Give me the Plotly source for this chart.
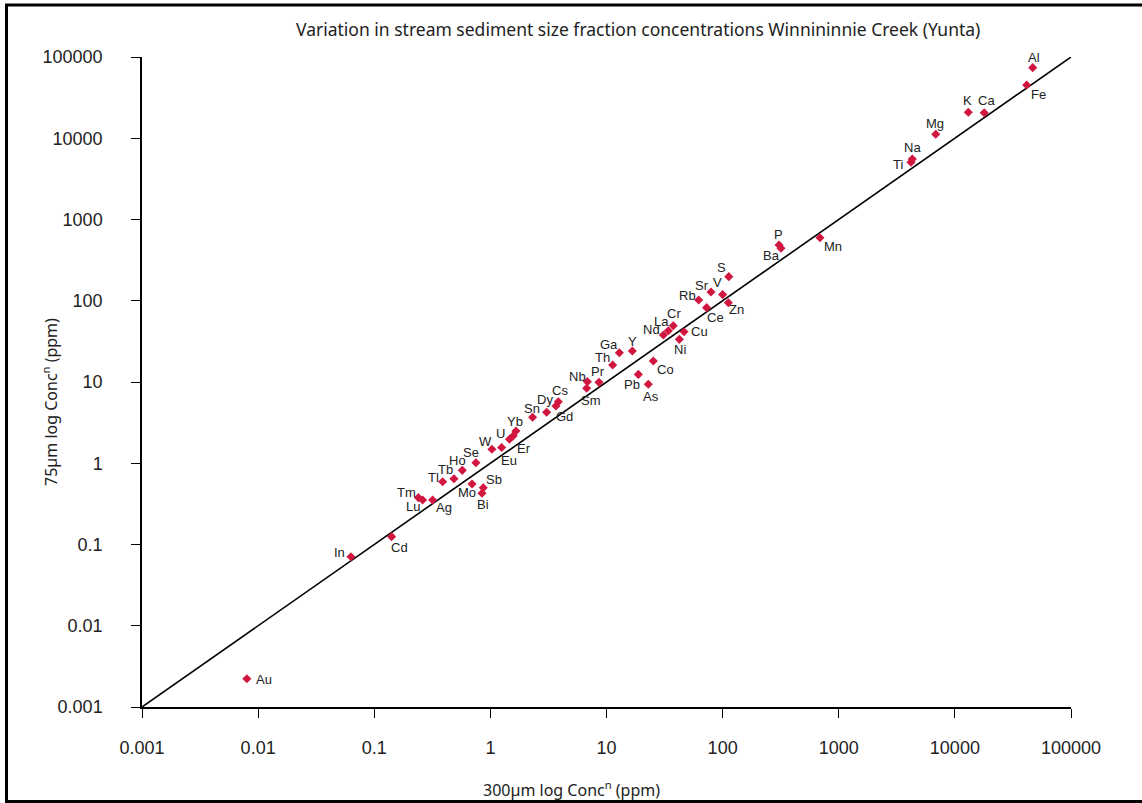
import numpy as np
import plotly.graph_objects as go

# Element concentrations (ppm) in the two stream-sediment size fractions
elements = ["Au", "In", "Cd", "Tm", "Lu", "Ag", "Tl", "Tb", "Ho", "Se", "Mo", "Sb", "Bi",
            "W", "Eu", "U", "Er", "Yb", "Sn", "Dy", "Cs", "Gd", "Nb", "Sm", "Pr", "Th",
            "Ga", "Y", "Co", "Pb", "As", "Nd", "La", "Cr", "Ni", "Cu", "Ce", "Rb", "Sr",
            "V", "Zn", "S", "P", "Ba", "Mn", "Ti", "Na", "Mg", "K", "Ca", "Fe", "Al"]
conc_300um = [0.0080, 0.063, 0.141, 0.240, 0.261, 0.318, 0.388, 0.486, 0.573, 0.751, 0.695, 0.869, 0.847,
              1.03, 1.25, 1.46, 1.57, 1.66, 2.31, 3.05, 3.85, 3.67, 6.84, 6.75, 8.62, 11.3,
              12.9, 16.7, 25.3, 18.8, 22.9, 30.9, 34.1, 37.6, 42.4, 46.5, 72.8, 62.2, 79.4,
              100, 112, 113, 306, 318, 689, 4190, 4300, 6840, 13050, 17900, 41500, 46800]
conc_75um = [0.00223, 0.0708, 0.125, 0.377, 0.353, 0.353, 0.593, 0.645, 0.818, 1.016, 0.556, 0.500, 0.427,
             1.49, 1.56, 1.97, 2.17, 2.49, 3.68, 4.24, 5.72, 5.07, 10.1, 8.36, 9.9, 16.2,
             22.9, 24.1, 18.1, 12.4, 9.37, 37.9, 42.8, 49.3, 33.5, 41.6, 82.2, 102, 128,
             119, 94.6, 198, 486, 442, 597, 5060, 5560, 11200, 20900, 20600, 45200, 73900]

# 1:1 reference line and axis decades
one_to_one = [0.001, 100000]
decades = [0.001, 0.01, 0.1, 1, 10, 100, 1000, 10000, 100000]
decade_labels = ["0.001", "0.01", "0.1", "1", "10", "100", "1000", "10000", "100000"]

# Label placement (pixel offsets from each marker: right, down)
label_offsets = {
    "Au": (17, 1), "In": (-11, -4), "Cd": (8, 11), "Tm": (-12, -5), "Lu": (-10, 7),
    "Ag": (11, 8), "Tl": (-9, -4), "Tb": (-8, -9), "Ho": (-5, -10), "Se": (-5, -10),
    "Mo": (-5, 9), "Sb": (11, -8), "Bi": (1, 11), "W": (-6, -8), "Eu": (7, 13),
    "U": (-9, -6), "Er": (11, 13), "Yb": (-1, -10), "Sn": (-1, -9), "Dy": (-2, -13),
    "Cs": (2, -11), "Gd": (9, 11), "Nb": (-10, -5), "Sm": (4, 12), "Pr": (-1, -11),
    "Th": (-10, -7), "Ga": (-10, -8), "Y": (0, -9), "Co": (12, 8), "Pb": (-6, 10),
    "As": (3, 12), "Nd": (-12, -5), "La": (-7, -9), "Cr": (1, -12), "Ni": (1, 10),
    "Cu": (15, 0), "Ce": (9, 10), "Rb": (-11, -5), "Sr": (-9, -7), "V": (-5, -12),
    "Zn": (8, 7), "S": (-7, -9), "P": (-1, -10), "Ba": (-9, 7), "Mn": (13, 9),
    "Ti": (-13, 2), "Na": (0, -11), "Mg": (-1, -11), "K": (-1, -12), "Ca": (2, -12),
    "Fe": (12, 9), "Al": (1, -10),
}

W, H = 1142, 803
L, R, T, B = 142, 71, 57, 96
pw, ph = W - L - R, H - T - B


def px_to_paper(px, py):
    return (px - L) / pw, (H - B - py) / ph


fig = go.Figure()
fig.add_trace(go.Scatter(x=one_to_one, y=one_to_one, mode="lines",
                         line=dict(color="black", width=1.6), hoverinfo="skip"))
fig.add_trace(go.Scatter(x=conc_300um, y=conc_75um, mode="markers", text=elements,
                         marker=dict(symbol="diamond", size=7, color="#d1163f",
                                     line=dict(width=0))))

label_font = dict(family="Liberation Sans, Arial, sans-serif", size=13, color="#222222")
for el, xv, yv in zip(elements, conc_300um, conc_75um):
    dx, dy = label_offsets[el]
    fig.add_annotation(x=np.log10(xv), y=np.log10(yv), text=el, showarrow=False,
                       xanchor="center", yanchor="middle",
                       xshift=dx, yshift=-dy, font=label_font)

title_font = dict(family="Noto Sans, Open Sans, sans-serif", size=17.5, color="#222222")
axis_title_font = dict(family="Noto Sans, Open Sans, sans-serif", size=16, color="#222222")
tx, ty = px_to_paper(638, 29)
fig.add_annotation(xref="paper", yref="paper", x=tx, y=ty, showarrow=False,
                   xanchor="center", yanchor="middle",
                   text="Variation in stream sediment size fraction concentrations Winnininnie Creek (Yunta)",
                   font=title_font)
ax_x, ax_y = px_to_paper(571, 789)
fig.add_annotation(xref="paper", yref="paper", x=ax_x, y=ax_y, showarrow=False,
                   xanchor="center", yanchor="middle",
                   text="300µm log Conc<sup>n</sup> (ppm)", font=axis_title_font)
ay_x, ay_y = px_to_paper(50, 402)
fig.add_annotation(xref="paper", yref="paper", x=ay_x, y=ay_y, showarrow=False,
                   xanchor="center", yanchor="middle",
                   textangle=-90, text="75µm log Conc<sup>n</sup> (ppm)", font=axis_title_font)

# Frame around the whole figure
bx0, by0 = px_to_paper(6.5, 801.5)
bx1, by1 = px_to_paper(1143.5, 5)
fig.add_shape(type="rect", xref="paper", yref="paper", x0=bx0, y0=by0, x1=bx1, y1=by1,
              line=dict(color="black", width=3), layer="above")

tick_font = dict(family="Liberation Sans, Arial, sans-serif", size=18, color="#222222")
axis_common = dict(type="log", range=[-3, 5], showgrid=False, zeroline=False,
                   showline=True, linecolor="black", linewidth=1.5,
                   ticks="outside", ticklen=9, tickcolor="black", tickwidth=1,
                   tickvals=decades, ticktext=decade_labels, tickfont=tick_font)
fig.update_xaxes(**axis_common, ticklabelstandoff=15)
fig.update_yaxes(**axis_common, ticklabelstandoff=25)

fig.update_layout(width=W, height=H, autosize=False,
                  margin=dict(l=L, r=R, t=T, b=B),
                  paper_bgcolor="white", plot_bgcolor="white",
                  showlegend=False)

fig.write_html("out.html")
